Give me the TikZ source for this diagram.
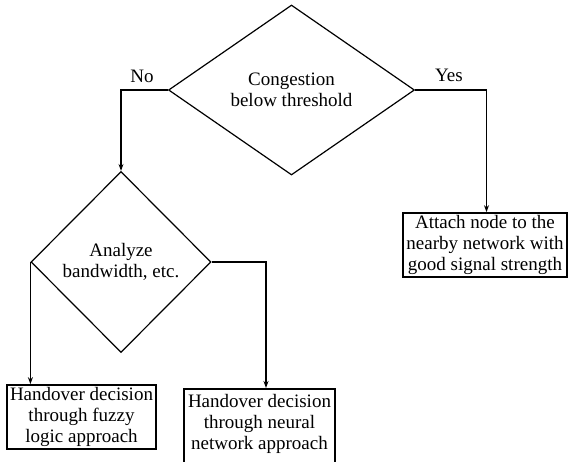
\documentclass[tikz,border=0pt]{standalone}
\usepackage{fontspec}
\setmainfont{Liberation Serif}
\usetikzlibrary{shapes.geometric,arrows.meta}
\begin{document}
\begin{tikzpicture}[x=1pt,y=-1pt,
  every node/.style={font=\fontsize{19}{21}\selectfont},
  decision/.style={draw, line width=1.2pt, shape=diamond, inner sep=0pt, align=center},
  procbox/.style={draw, line width=1.7pt, align=center, inner xsep=2pt, inner ysep=0pt},
  conn/.style={line width=1.4pt, -{Stealth[length=7pt,width=5pt]}},
  lbl/.style={inner sep=0pt}]
\useasboundingbox (0,0) rectangle (568,461);
\node[decision, minimum width=246pt, minimum height=170pt, aspect=1.447] (d1) at (291.5,90) {Congestion\\below threshold};
\node[decision, minimum width=180pt, minimum height=181pt, aspect=0.995] (d2) at (121,262) {Analyze\\bandwidth, etc.};
\node[procbox, minimum width=164pt, minimum height=64pt] (b3) at (485,245) {Attach node to the\\nearby network with\\good signal strength};
\node[procbox, minimum width=149pt, minimum height=64pt] (b1) at (81.5,417) {Handover decision\\through fuzzy\\logic approach};
\node[procbox, minimum width=151pt, anchor=north, inner ysep=5pt, text depth=22pt] (b2) at (259.5,388) {Handover decision\\through neural\\network approach};
\node[lbl] (no) at (142,76) {No};
\node[lbl] (yes) at (449,75) {Yes};
\coordinate (b2in) at ([xshift=6.5pt]b2.north);
\draw[conn] (d1.west) -| (d2.north);
\draw[conn] (d1.east) -| ([xshift=1.5pt]b3.north);
\draw[conn] (d2.west) -- (d2.west |- b1.north);
\draw[conn] (d2.east) -| (b2in);
\end{tikzpicture}
\end{document}
